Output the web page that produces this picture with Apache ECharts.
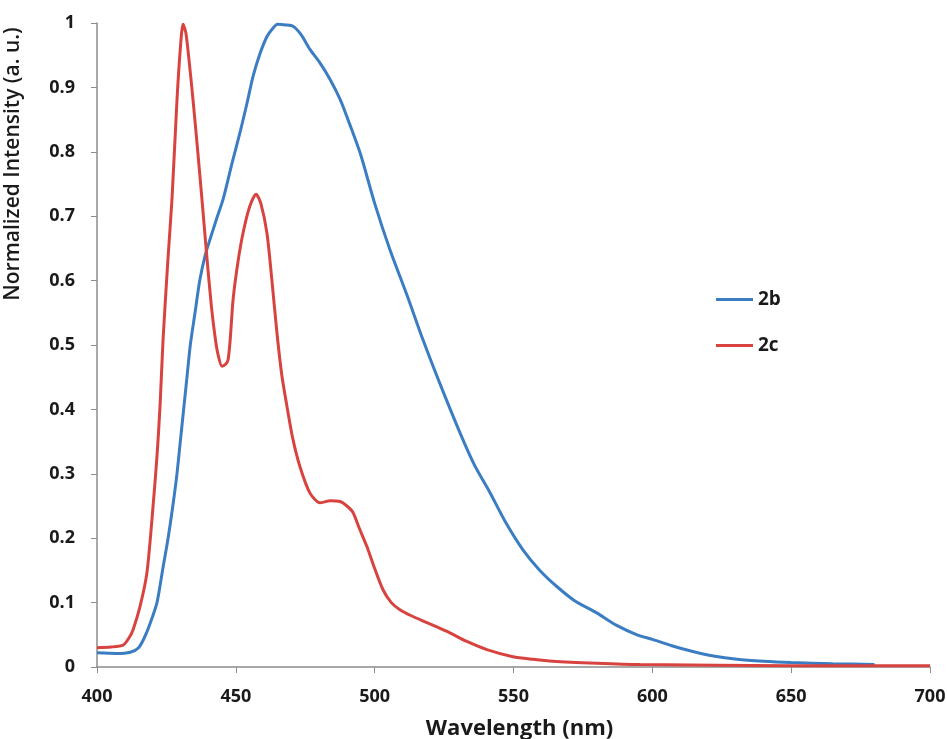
<!DOCTYPE html>
<html>
    <head>
        <script src="https://cdn.jsdelivr.net/npm/echarts@6.0.0/dist/echarts.min.js"></script>
        <style>
            html, body { margin: 0; padding: 0; background: #ffffff; }
            #spectrum { width: 947px; height: 739px; }
        </style>
    </head>
    <body>
        <div id="spectrum"></div>
        <script>
            // emission spectra
            const wl2b = [400, 407, 412, 415, 417, 419, 421.6, 423.6, 425.6, 427.3, 428.8, 430, 431.2, 432.4, 433.6, 435.3, 437, 439, 441, 443,
                445.4, 448.5, 451.5, 454, 456.2, 458.5, 461.2, 463, 465, 468, 470.6, 473.5, 476.7, 480, 484, 487.6, 491, 495, 500, 505.5,
                511.6, 517.4, 523.5, 530.7, 536, 541.5, 547, 553.4, 559.5, 565.6, 572, 580, 587, 594.5, 600, 607, 614.6, 622, 630.5, 640,
                650, 665, 680];
            const int2b = [0.022, 0.021, 0.023, 0.03, 0.045, 0.066, 0.1, 0.15, 0.2, 0.25, 0.3, 0.35, 0.4, 0.45, 0.5, 0.55, 0.6, 0.64, 0.668, 0.695,
                0.726, 0.78, 0.83, 0.875, 0.917, 0.95, 0.979, 0.99, 0.998, 0.997, 0.995, 0.982, 0.959, 0.94, 0.912, 0.881, 0.843, 0.795, 0.72, 0.648,
                0.578, 0.508, 0.44, 0.364, 0.313, 0.271, 0.226, 0.182, 0.15, 0.125, 0.103, 0.084, 0.065, 0.05, 0.043, 0.033, 0.024, 0.017, 0.012, 0.009,
                0.007, 0.005, 0.004];

            const wl2c = [400, 405, 409.4, 411.5, 413, 415.5, 418, 420.2, 421.6, 422.7, 423.8, 425.5, 427, 428.8, 430, 431, 432, 433.2, 434.6, 436.3,
                437.8, 439.5, 441.2, 442.6, 443.6, 445, 446.3, 447.2, 448, 449, 450.8, 452.6, 455, 457.3, 459, 461.2, 463, 464.8, 466.5, 468.4,
                470.5, 473.1, 476.7, 480.3, 484, 487.5, 490, 492.2, 494.5, 497.2, 500, 503, 506, 509.1, 513, 518.8, 523, 527.1, 533, 540.4,
                549.8, 557, 564.2, 580, 595.5, 650, 700];
            const int2c = [0.03, 0.031, 0.034, 0.045, 0.058, 0.094, 0.147, 0.25, 0.327, 0.405, 0.509, 0.63, 0.726, 0.88, 0.96, 0.998, 0.985, 0.94, 0.88, 0.8,
                0.726, 0.64, 0.56, 0.51, 0.485, 0.467, 0.47, 0.477, 0.51, 0.57, 0.63, 0.674, 0.715, 0.734, 0.72, 0.674, 0.6, 0.519, 0.455, 0.405,
                0.355, 0.311, 0.27, 0.255, 0.258, 0.257, 0.25, 0.24, 0.215, 0.187, 0.153, 0.12, 0.1, 0.089, 0.08, 0.069, 0.061, 0.053, 0.04, 0.027,
                0.016, 0.012, 0.009, 0.006, 0.004, 0.002, 0.002];

            const xTicks = [400, 450, 500, 550, 600, 650, 700];

            function pairs(xs, ys){
                return xs.map((x, i) => [x, ys[i]]);
            }

            const labelFont = { fontFamily: 'Open Sans', fontWeight: 'bold', fontSize: 18, color: '#1a1a1a' };

            var chart = echarts.init(document.getElementById('spectrum'));
            chart.setOption({
                backgroundColor: '#ffffff',
                animation: false,
                grid: { left: 97, right: 17, top: 23, bottom: 72, outerBoundsMode: 'none' },
                legend: {
                    orient: 'vertical',
                    left: 711, top: 277,
                    itemGap: 11,
                    icon: 'rect',
                    itemWidth: 37, itemHeight: 3,
                    textStyle: { fontFamily: 'Open Sans', fontWeight: 'bold', fontSize: 19, color: '#1a1a1a' },
                    data: ['2b', '2c']
                },
                xAxis: {
                    type: 'value',
                    min: xTicks[0], max: xTicks[xTicks.length - 1], interval: 50,
                    name: 'Wavelength (nm)',
                    nameLocation: 'middle',
                    nameGap: 41,
                    nameMoveOverlap: false,
                    nameTextStyle: { fontFamily: 'Open Sans', fontWeight: 'bold', fontSize: 22, color: '#1a1a1a', padding: [0, 0, 0, 12] },
                    axisLine: { lineStyle: { color: '#8c8c8c', width: 1.5 } },
                    axisTick: { show: true, length: 6, lineStyle: { color: '#8c8c8c' } },
                    axisLabel: Object.assign({ margin: 13 }, labelFont),
                    splitLine: { show: false }
                },
                yAxis: {
                    type: 'value',
                    min: 0, max: 1, interval: 0.1,
                    name: 'Normalized Intensity (a. u.)',
                    nameLocation: 'middle',
                    nameGap: 66,
                    nameMoveOverlap: false,
                    nameTextStyle: { fontFamily: 'Open Sans', fontWeight: 600, fontSize: 21, color: '#1a1a1a', padding: [0, 0, 0, 362] },
                    axisLine: { show: true, lineStyle: { color: '#8c8c8c', width: 1.5 } },
                    axisTick: { show: true, length: 6, lineStyle: { color: '#8c8c8c' } },
                    axisLabel: Object.assign({ margin: 22 }, labelFont),
                    splitLine: { show: false }
                },
                series: [
                    {
                        name: '2b', type: 'line', data: pairs(wl2b, int2b),
                        showSymbol: false, smooth: 0.25,
                        lineStyle: { color: '#3b7dc3', width: 3 },
                        itemStyle: { color: '#3b7dc3' }
                    },
                    {
                        name: '2c', type: 'line', data: pairs(wl2c, int2c),
                        showSymbol: false, smooth: 0.25,
                        lineStyle: { color: '#d9433f', width: 3 },
                        itemStyle: { color: '#d9433f' }
                    }
                ]
            });
        </script>
    </body>
</html>
